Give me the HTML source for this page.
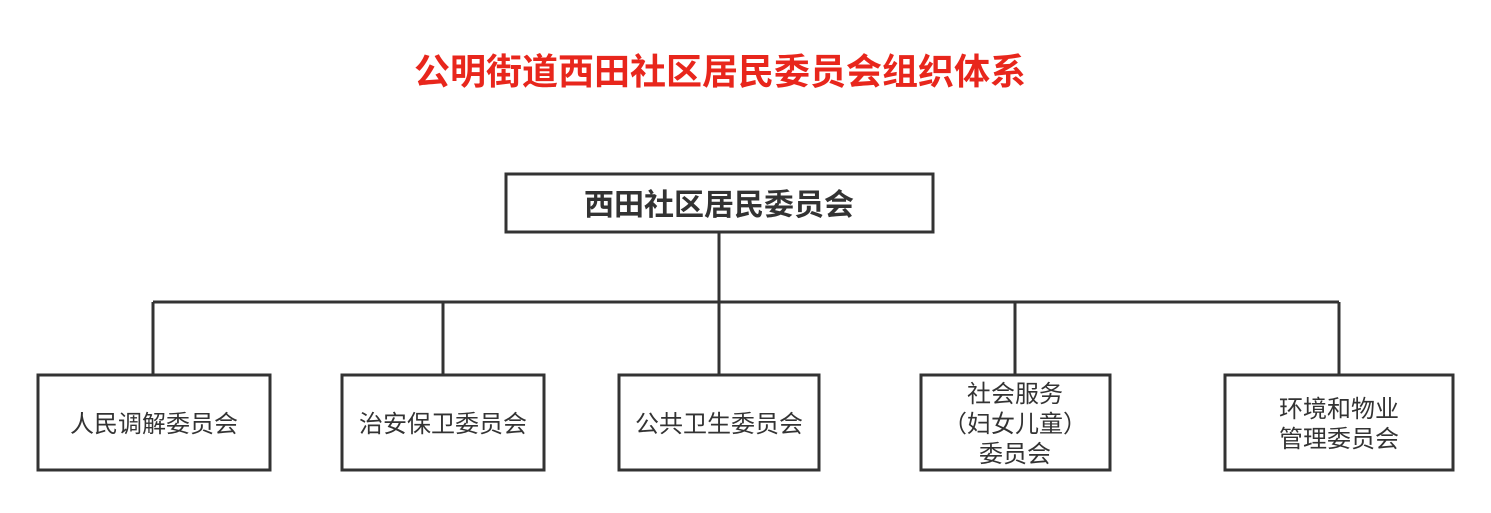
<!DOCTYPE html>
<html><head><meta charset="utf-8"><style>
body{margin:0;width:1491px;height:508px;background:#fff;overflow:hidden}
svg text{font-family:"Liberation Sans","Noto Sans CJK SC",sans-serif}
</style></head><body>
<svg width="1491" height="508" xmlns="http://www.w3.org/2000/svg">
<text x="720" y="84" text-anchor="middle" font-size="36" font-weight="bold" fill="#e8261c">公明街道西田社区居民委员会组织体系</text>
<g stroke="#333" stroke-width="3" fill="none">
<rect x="506" y="174" width="427" height="58" fill="#fff"/>
<line x1="719" y1="232" x2="719" y2="375"/>
<line x1="153" y1="302" x2="1339" y2="302"/>
<line x1="153" y1="302" x2="153" y2="375"/>
<line x1="443" y1="302" x2="443" y2="375"/>
<line x1="1015" y1="302" x2="1015" y2="375"/>
<line x1="1339" y1="302" x2="1339" y2="375"/>
<rect x="38" y="375" width="232" height="95" fill="#fff"/>
<rect x="342" y="375" width="202" height="95" fill="#fff"/>
<rect x="619" y="375" width="200" height="95" fill="#fff"/>
<rect x="921" y="375" width="189" height="95" fill="#fff"/>
<rect x="1225" y="375" width="228" height="95" fill="#fff"/>
</g>
<text x="719" y="215" text-anchor="middle" font-size="30" font-weight="bold" fill="#333">西田社区居民委员会</text>
<g font-size="24" fill="#333" text-anchor="middle">
<text x="154" y="432">人民调解委员会</text>
<text x="443" y="432">治安保卫委员会</text>
<text x="719" y="432">公共卫生委员会</text>
<text x="1015" y="402">社会服务</text>
<text x="1015" y="432">（妇女儿童）</text>
<text x="1015" y="462">委员会</text>
<text x="1339" y="417">环境和物业</text>
<text x="1339" y="447">管理委员会</text>
</g>
</svg>
</body></html>
